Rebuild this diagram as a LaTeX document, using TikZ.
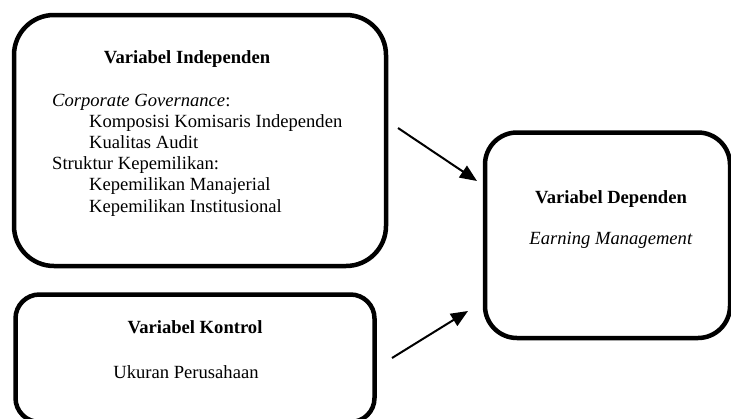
\documentclass[tikz,border=0pt]{standalone}
\usepackage{fontspec}
\setmainfont{Liberation Serif}
\usetikzlibrary{arrows.meta}
\tikzset{
  varbox/.style={draw, line width=4.5pt, rounded corners=#1, inner sep=0pt},
  txt/.style={inner sep=0pt, font=\fontsize{18.6}{22}\selectfont},
  ctxt/.style={txt, anchor=base},
  ltxt/.style={txt, anchor=base west},
  link/.style={line width=2pt, -{Triangle[length=17pt,width=14pt]}}
}
\begin{document}
\begin{tikzpicture}[x=1pt,y=-1pt]
\useasboundingbox (0,0) rectangle (731,418);
\begin{scope}
\clip (0,0) rectangle (731,418);
% boxes
\node[varbox=40pt, minimum width=372pt, minimum height=251pt] (ind) at (200,140.5) {};
\node[varbox=24pt, minimum width=359pt, minimum height=127.5pt] (kon) at (195,358.25) {};
\node[varbox=32pt, minimum width=245pt, minimum height=205.5pt] (dep) at (607.5,235.25) {};
\end{scope}
% independent box text
\node[ctxt] (indt) at (187,63) {\textbf{Variabel Independen}};
\node[ltxt] (cg) at (52,106) {\textit{Corporate Governance}:};
\node[ltxt] (kki) at (89,127.2) {Komposisi Komisaris Independen};
\node[ltxt] (ka) at (89,148.4) {Kualitas Audit};
\node[ltxt] (sk) at (52,169.6) {Struktur Kepemilikan:};
\node[ltxt] (km) at (89,190.8) {Kepemilikan Manajerial};
\node[ltxt] (ki) at (89,212) {Kepemilikan Institusional};
% control box text
\node[ctxt] (kont) at (195,333) {\textbf{Variabel Kontrol}};
\node[ctxt] (up) at (186,378) {Ukuran Perusahaan};
% dependent box text
\node[ctxt] (dept) at (611,203) {\textbf{Variabel Dependen}};
\node[ctxt] (em) at (611,244) {\textit{Earning Management}};
% arrows
\coordinate (a1s) at (398,128);
\coordinate (a1e) at (477,181);
\coordinate (a2s) at (392,358);
\coordinate (a2e) at (468,311);
\draw[link] (a1s) -- (a1e);
\draw[link] (a2s) -- (a2e);
\end{tikzpicture}
\end{document}
